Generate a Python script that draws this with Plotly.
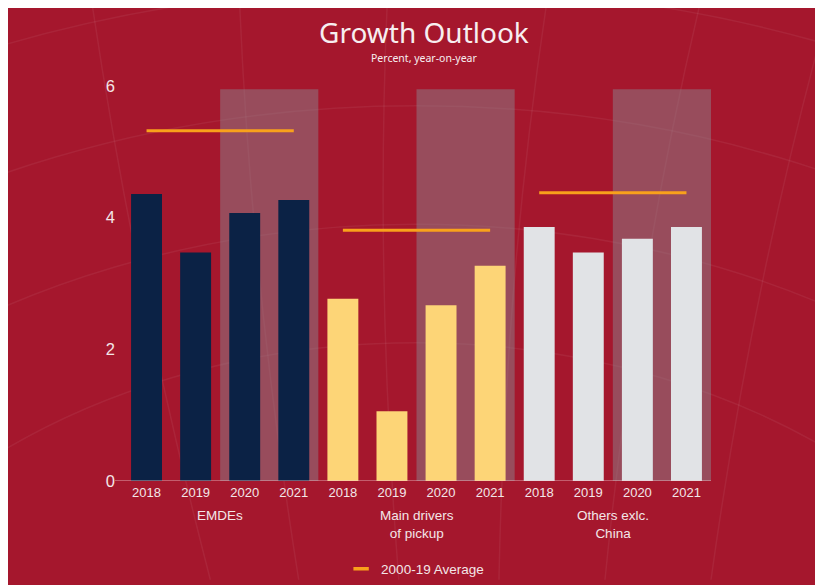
import plotly.graph_objects as go

groups = ["EMDEs", "Main drivers<br>of pickup", "Others exlc.<br>China"]
years = ["2018", "2019", "2020", "2021"]
emdes = [4.36, 3.47, 4.07, 4.27]
main_drivers = [2.77, 1.06, 2.67, 3.27]
others = [3.86, 3.47, 3.68, 3.86]
averages = [5.32, 3.81, 4.38]
series_colors = ["#0B2245", "#FDD577", "#E1E3E6"]
avg_color = "#F9A11B"

series = [emdes, main_drivers, others]
n = len(years)

fig = go.Figure()

# bars
for gi, vals in enumerate(series):
    xs = [gi * n + i for i in range(n)]
    fig.add_trace(go.Bar(x=xs, y=vals, marker=dict(color=series_colors[gi], line=dict(width=0)),
                         width=0.63, showlegend=False, hoverinfo="y"))

# average lines
ax, ay = [], []
for gi, avg in enumerate(averages):
    ax += [gi * n, gi * n + n - 1, None]
    ay += [avg, avg, None]
fig.add_trace(go.Scatter(x=ax, y=ay, mode="lines", line=dict(color=avg_color, width=3),
                         name="2000-19 Average", showlegend=False))
# legend entry (short dash)
fig.add_trace(go.Scatter(x=[None], y=[None], mode="markers", name="2000-19 Average",
                         marker=dict(symbol="line-ew", size=11,
                                     line=dict(color=avg_color, width=3.5)),
                         showlegend=True))

shapes = []

# globe-like faint lines
glc = "rgba(255,255,255,0.06)"
for (cx, cy, r) in [(0.5, -0.9, 1.55), (0.5, -0.9, 1.85), (0.5, -0.9, 1.25), (0.5, -0.9, 2.15)]:
    shapes.append(dict(type="circle", xref="paper", yref="paper",
                       x0=cx - r * 0.9, x1=cx + r * 0.9, y0=cy - r, y1=cy + r,
                       line=dict(color=glc, width=1.5), layer="below"))
for (x0, x1) in [(-0.05, 0.15), (0.2, 0.3), (0.45, 0.47), (0.72, 0.64), (0.98, 0.82), (1.2, 1.0)]:
    shapes.append(dict(type="path", xref="paper", yref="paper",
                       path=f"M {x0},1.2 Q {(x0 + x1) / 2 - 0.03},0.5 {x1},-0.25",
                       line=dict(color=glc, width=1.5), layer="below"))

# shaded forecast regions (2020-2021 of each group)
for gi in range(len(groups)):
    shapes.append(dict(type="rect", xref="x", yref="y", x0=gi * n + 1.5, x1=gi * n + 3.5,
                       y0=0, y1=5.95, fillcolor="rgba(140,130,140,0.5)", line=dict(width=0),
                       layer="below"))

# zero line
shapes.append(dict(type="line", xref="paper", yref="y", x0=-0.012, x1=1.0, y0=0, y1=0,
                   line=dict(color="rgba(240,200,205,0.8)", width=1.2)))

annotations = []
for gi, g in enumerate(groups):
    annotations.append(dict(x=gi * n + 1.5, y=-0.063, xref="x", yref="paper", text=g,
                            showarrow=False, yanchor="top",
                            font=dict(family="Liberation Sans, Arial", size=13.5, color="#F3E6E8")))
annotations.append(dict(x=0.512, y=1.1367, xref="paper", yref="paper",
                        text="Growth Outlook", showarrow=False, yanchor="middle",
                        font=dict(family="Noto Sans", size=28, color="#F7EEF0")))
annotations.append(dict(x=0.512, y=1.0709, xref="paper", yref="paper",
                        text="Percent, year-on-year", showarrow=False, yanchor="middle",
                        font=dict(family="Noto Sans", size=10.5, color="#F7EEF0")))

fig.update_layout(
    width=823, height=585,
    margin=dict(l=114, r=120, t=78, b=112, autoexpand=False),
    paper_bgcolor="#A5172D", plot_bgcolor="rgba(0,0,0,0)",
    bargap=0.37,
    shapes=shapes, annotations=annotations,
    showlegend=True,
    legend=dict(orientation="h", x=0.372, xanchor="left", y=-0.223, yanchor="middle",
                bgcolor="rgba(0,0,0,0)",
                font=dict(family="Liberation Sans, Arial", size=13.5, color="#F3E6E8")),
    xaxis=dict(range=[-0.5, 11.5], tickvals=list(range(12)), ticktext=years * 3,
               showgrid=False, zeroline=False, showline=False, ticks="",
               ticklabelstandoff=2,
               tickfont=dict(family="Liberation Sans, Arial", size=13, color="#F3E6E8")),
    yaxis=dict(range=[0, 6], tickvals=[0, 2, 4, 6], showgrid=False, zeroline=False,
               showline=False, ticks="", ticklabelstandoff=6,
               tickfont=dict(family="Liberation Sans, Arial", size=16.5, color="#F3E6E8")),
)

fig.write_html("out.html")
